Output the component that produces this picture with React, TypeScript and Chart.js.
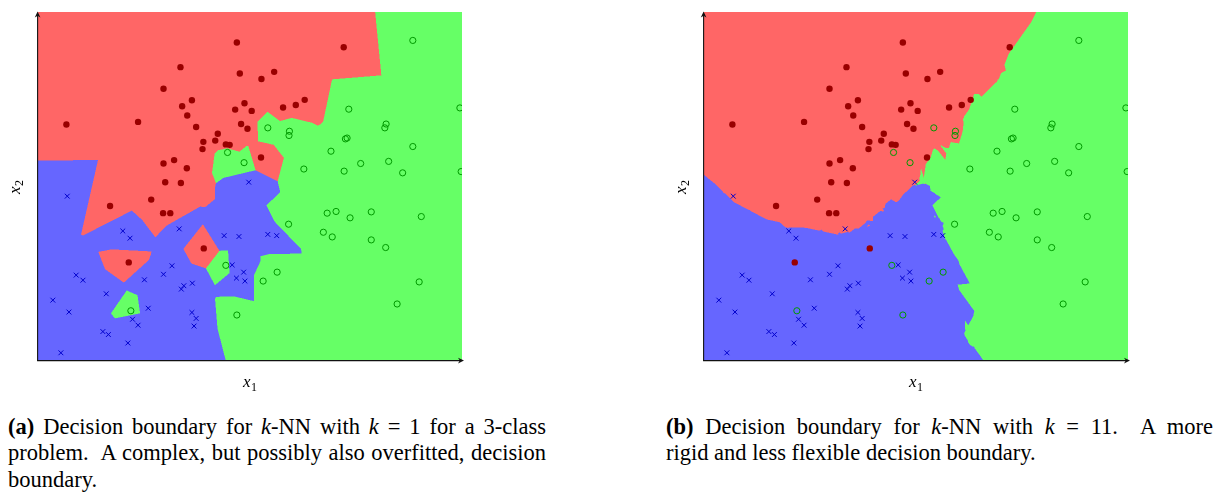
import React, { useEffect, useRef } from "react";
import { Chart, registerables } from "chart.js";
Chart.register(...registerables);

// ---- data (feature space units) ----
const X_MIN = 0;
const X_MAX = 10;
const Y_MIN = 0;
const Y_MAX = 8.2;

const redPoints: [number, number][] = [
  [4.69, 7.48], [3.36, 6.9], [4.76, 6.75], [2.96, 6.39], [3.63, 6.12], [3.4, 5.98], [4.87, 6.05],
  [4.65, 5.9], [5.04, 5.87], [3.52, 5.76], [0.67, 5.55], [2.36, 5.61], [4.79, 5.56], [4.94, 5.45],
  [3.73, 5.49], [4.24, 5.33], [4.18, 5.17], [3.9, 5.14], [4.43, 5.08], [4.52, 5.07], [3.88, 4.97],
  [3.21, 4.71], [2.96, 4.63], [3.51, 4.52], [3.0, 4.19], [3.37, 4.17], [7.21, 7.37], [5.57, 6.79],
  [5.27, 6.62], [6.29, 6.13], [6.08, 6.01], [5.78, 5.95], [5.26, 4.77], [1.7, 3.63], [2.67, 3.78],
  [2.95, 3.46], [3.12, 3.46], [3.91, 2.63], [2.14, 2.3],
];

const greenPoints: [number, number][] = [
  [4.47, 4.89], [4.86, 4.65], [8.84, 7.53], [7.33, 5.91], [9.95, 5.94], [5.42, 5.47], [5.93, 5.39],
  [5.92, 5.29], [8.21, 5.56], [8.18, 5.47], [7.29, 5.23], [7.25, 5.21], [8.84, 5.03], [6.91, 4.92],
  [6.27, 4.5], [7.22, 4.45], [7.61, 4.63], [8.27, 4.68], [8.6, 4.41], [9.98, 4.44], [4.43, 2.23],
  [2.19, 1.16], [4.69, 1.06], [6.82, 3.46], [7.03, 3.5], [7.36, 3.35], [7.86, 3.49], [9.04, 3.38],
  [5.91, 3.2], [6.73, 3.01], [6.94, 2.9], [7.86, 2.83], [8.2, 2.65], [5.64, 2.07], [5.31, 1.86],
  [8.99, 1.84], [8.47, 1.32],
];

const bluePoints: [number, number][] = [
  [4.97, 4.19], [0.69, 3.86], [2.0, 3.04], [2.17, 2.87], [3.33, 3.09], [4.39, 2.93], [4.74, 2.91],
  [3.16, 2.22], [2.96, 2.02], [4.58, 2.24], [4.85, 2.07], [4.68, 1.93], [4.88, 1.86], [0.9, 2.0],
  [1.06, 1.88], [2.51, 1.89], [3.64, 1.81], [3.44, 1.75], [3.38, 1.67], [1.61, 1.56], [0.35, 1.41],
  [0.73, 1.13], [2.6, 1.22], [2.23, 0.96], [2.36, 0.82], [3.63, 1.12], [3.73, 0.98], [3.68, 0.8],
  [1.53, 0.67], [1.66, 0.6], [2.12, 0.4], [0.54, 0.17], [5.42, 2.96], [5.63, 2.93],
];

const K_VALUES = [1, 11];

const REGION_RGB: [number, number, number][] = [
  [255, 102, 102],
  [102, 255, 102],
  [102, 102, 255],
];
const MARK_RED = "#990000";
const MARK_GREEN = "#009900";
const MARK_BLUE = "#0000cc";

// training set built from the arrays
const TRAIN: { x: number; y: number; c: number }[] = [
  ...redPoints.map(([x, y]) => ({ x, y, c: 0 })),
  ...greenPoints.map(([x, y]) => ({ x, y, c: 1 })),
  ...bluePoints.map(([x, y]) => ({ x, y, c: 2 })),
];

function classify(px: number, py: number, k: number): number {
  const n = TRAIN.length;
  if (k === 1) {
    let best = Infinity;
    let bc = 0;
    for (let i = 0; i < n; i++) {
      const t = TRAIN[i];
      const dx = t.x - px;
      const dy = t.y - py;
      const d = dx * dx + dy * dy;
      if (d < best) {
        best = d;
        bc = t.c;
      }
    }
    return bc;
  }
  const dist: number[] = [];
  const cls: number[] = [];
  for (let i = 0; i < n; i++) {
    const t = TRAIN[i];
    const dx = t.x - px;
    const dy = t.y - py;
    const d = dx * dx + dy * dy;
    if (dist.length < k || d < dist[dist.length - 1]) {
      let j = dist.length < k ? dist.length : k - 1;
      while (j > 0 && dist[j - 1] > d) {
        dist[j] = dist[j - 1];
        cls[j] = cls[j - 1];
        j--;
      }
      dist[j] = d;
      cls[j] = t.c;
    }
  }
  const counts = [0, 0, 0];
  const nearest = [Infinity, Infinity, Infinity];
  for (let j = 0; j < cls.length; j++) {
    counts[cls[j]]++;
    if (dist[j] < nearest[cls[j]]) nearest[cls[j]] = dist[j];
  }
  let bc = 0;
  for (let c = 1; c < 3; c++) {
    if (counts[c] > counts[bc] || (counts[c] === counts[bc] && nearest[c] < nearest[bc])) bc = c;
  }
  return bc;
}

const regionPlugin = {
  id: "knnRegions",
  beforeDatasetsDraw(chart: any, _args: any, opts: any) {
    const { ctx, chartArea: ca, scales } = chart;
    const k = opts.k || 1;
    const left = Math.round(ca.left);
    const top = Math.round(ca.top);
    const W = Math.round(ca.right) - left;
    const H = Math.round(ca.bottom) - top;
    if (!chart.$knnImage || chart.$knnK !== k) {
      const off = document.createElement("canvas");
      off.width = W;
      off.height = H;
      const octx = off.getContext("2d")!;
      const img = octx.createImageData(W, H);
      const xs = scales.x;
      const ys = scales.y;
      const subs = [0.25, 0.75];
      const xv: number[][] = [];
      for (let i = 0; i < W; i++) xv.push(subs.map((s) => xs.getValueForPixel(left + i + s)));
      const yv: number[][] = [];
      for (let j = 0; j < H; j++) yv.push(subs.map((s) => ys.getValueForPixel(top + j + s)));
      for (let j = 0; j < H; j++) {
        for (let i = 0; i < W; i++) {
          let r = 0, g = 0, b = 0;
          for (let a = 0; a < 2; a++) {
            for (let c = 0; c < 2; c++) {
              const cl = classify(xv[i][c], yv[j][a], k);
              const rgb = REGION_RGB[cl];
              r += rgb[0];
              g += rgb[1];
              b += rgb[2];
            }
          }
          const p = (j * W + i) * 4;
          img.data[p] = r / 4;
          img.data[p + 1] = g / 4;
          img.data[p + 2] = b / 4;
          img.data[p + 3] = 255;
        }
      }
      octx.putImageData(img, 0, 0);
      chart.$knnImage = off;
      chart.$knnK = k;
    }
    ctx.save();
    ctx.drawImage(chart.$knnImage, left, top);
    ctx.restore();
  },
};

function arrowHead(ctx: CanvasRenderingContext2D, tx: number, ty: number, dirx: number, diry: number) {
  const len = 6;
  const half = 2.8;
  const nx = -diry;
  const ny = dirx;
  ctx.beginPath();
  ctx.moveTo(tx, ty);
  ctx.lineTo(tx - dirx * len + nx * half, ty - diry * len + ny * half);
  ctx.lineTo(tx - dirx * len * 0.7, ty - diry * len * 0.7);
  ctx.lineTo(tx - dirx * len - nx * half, ty - diry * len - ny * half);
  ctx.closePath();
  ctx.fill();
}

function drawSubLabel(ctx: CanvasRenderingContext2D, main: string, sub: string, cx: number, baseline: number) {
  const mainFont = 'italic 17px "Liberation Serif", "Times New Roman", serif';
  const subFont = '12px "Liberation Serif", "Times New Roman", serif';
  ctx.font = mainFont;
  const w1 = ctx.measureText(main).width;
  ctx.font = subFont;
  const w2 = ctx.measureText(sub).width;
  const start = cx - (w1 + w2 + 0.5) / 2;
  ctx.textBaseline = "alphabetic";
  ctx.textAlign = "left";
  ctx.font = mainFont;
  ctx.fillText(main, start, baseline);
  ctx.font = subFont;
  ctx.fillText(sub, start + w1 + 0.5, baseline + 3.5);
}

const axesPlugin = {
  id: "arrowAxes",
  afterDraw(chart: any) {
    const { ctx, chartArea: ca } = chart;
    ctx.save();
    ctx.strokeStyle = "#111";
    ctx.fillStyle = "#111";
    ctx.lineWidth = 1.1;
    const ax = ca.left - 0.4;
    const ay = ca.bottom + 0.6;
    // y axis
    ctx.beginPath();
    ctx.moveTo(ax, ay + 0.5);
    ctx.lineTo(ax, ca.top + 2);
    ctx.stroke();
    arrowHead(ctx, ax, ca.top - 0.5, 0, -1);
    // x axis
    ctx.beginPath();
    ctx.moveTo(ax - 0.5, ay);
    ctx.lineTo(ca.right - 1, ay);
    ctx.stroke();
    arrowHead(ctx, ca.right + 2, ay, 1, 0);
    // labels
    ctx.fillStyle = "#000";
    drawSubLabel(ctx, "x", "1", (ca.left + ca.right) / 2, 387);
    ctx.translate(19.5, (ca.top + ca.bottom) / 2 + 1);
    ctx.rotate(-Math.PI / 2);
    drawSubLabel(ctx, "x", "2", 0, 0);
    ctx.restore();
  },
};

function KnnPanel({ k, left }: { k: number; left: number }) {
  const ref = useRef<HTMLCanvasElement | null>(null);
  useEffect(() => {
    if (!ref.current) return;
    const toXY = (arr: [number, number][]) => arr.map(([x, y]) => ({ x, y }));
    const chart = new Chart(ref.current, {
      type: "scatter",
      data: {
        datasets: [
          {
            data: toXY(bluePoints),
            pointStyle: "crossRot",
            pointRadius: 3.4,
            borderColor: MARK_BLUE,
            backgroundColor: MARK_BLUE,
            borderWidth: 1,
          },
          {
            data: toXY(redPoints),
            pointStyle: "circle",
            pointRadius: 3.2,
            borderWidth: 0,
            backgroundColor: MARK_RED,
            borderColor: MARK_RED,
          },
          {
            data: toXY(greenPoints),
            pointStyle: "circle",
            pointRadius: 3.1,
            borderWidth: 1,
            backgroundColor: "rgba(0,0,0,0)",
            borderColor: MARK_GREEN,
          },
        ],
      },
      options: {
        responsive: false,
        maintainAspectRatio: false,
        animation: false,
        events: [],
        layout: { padding: { left: 38, top: 12, right: 18, bottom: 40 } },
        scales: {
          x: { type: "linear", min: X_MIN, max: X_MAX, display: false },
          y: { type: "linear", min: Y_MIN, max: Y_MAX, display: false },
        },
        plugins: {
          legend: { display: false },
          tooltip: { enabled: false },
          knnRegions: { k },
        } as any,
      },
      plugins: [regionPlugin, axesPlugin],
    });
    return () => chart.destroy();
  }, [k]);
  return (
    <canvas
      ref={ref}
      width={480}
      height={400}
      style={{ position: "absolute", left, top: 0, width: 480, height: 400 }}
    />
  );
}

const captionFont: React.CSSProperties = {
  position: "absolute",
  fontFamily: '"Liberation Serif", "Times New Roman", serif',
  fontSize: 22.5,
  lineHeight: "26.7px",
  color: "#000",
  whiteSpace: "nowrap",
};

function CapLine({ left, width, top, last, children }: any) {
  return (
    <div
      style={{
        ...captionFont,
        left,
        width,
        top,
        textAlign: last ? "left" : "justify",
        textAlignLast: last ? "left" : "justify",
      }}
    >
      {children}
    </div>
  );
}

export default function App() {
  const lineTop = 413.5;
  const lh = 26.7;
  return (
    <div style={{ position: "absolute", left: 0, top: 0, width: 1214, height: 497, background: "#fff" }}>
      <KnnPanel k={K_VALUES[0]} left={0} />
      <KnnPanel k={K_VALUES[1]} left={666} />
      <CapLine left={8} width={538} top={lineTop}>
        <b>(a)</b> Decision boundary for <i>k</i>-NN with <i>k</i> = 1 for a 3-class
      </CapLine>
      <CapLine left={8} width={538} top={lineTop + lh}>
        problem.&nbsp; A complex, but possibly also overfitted, decision
      </CapLine>
      <CapLine left={8} width={538} top={lineTop + 2 * lh} last>
        boundary.
      </CapLine>
      <CapLine left={666} width={547} top={lineTop}>
        <b>(b)</b> Decision boundary for <i>k</i>-NN with <i>k</i> = 11.&nbsp; A more
      </CapLine>
      <CapLine left={666} width={547} top={lineTop + lh} last>
        rigid and less flexible decision boundary.
      </CapLine>
    </div>
  );
}
